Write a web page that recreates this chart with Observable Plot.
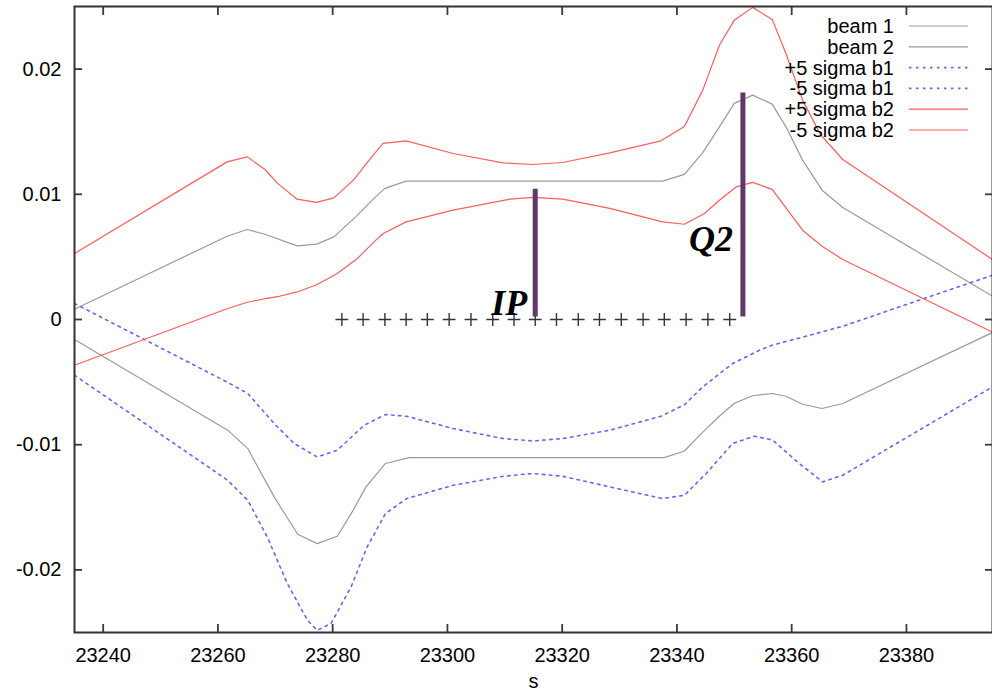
<!DOCTYPE html>
<html><head><meta charset="utf-8">
<script src="https://cdn.jsdelivr.net/npm/d3@7"></script>
<script src="https://cdn.jsdelivr.net/npm/@observablehq/plot@0.6"></script>
<style>
html,body{margin:0;padding:0;background:#fff;}
#wrap{position:relative;width:992px;height:694px;overflow:hidden;}
#legend{position:absolute;left:0;top:0;pointer-events:none;}
</style></head><body><div id="wrap"></div>
<script>
// ---- data ----
const xTicks = [23240, 23260, 23280, 23300, 23320, 23340, 23360, 23380];
const yTicks = [-0.02, -0.01, 0, 0.01, 0.02];
const yTickLabels = ["-0.02", "-0.01", "0", "0.01", "0.02"];

const legendLabels = ["beam 1", "beam 2", "+5 sigma b1", "-5 sigma b1", "+5 sigma b2", "-5 sigma b2"];

// beam 1 (lower grey)
const sB1 = [23235, 23261.7, 23265.2, 23269.8, 23273.9, 23277.3, 23280.8, 23283.4, 23285.8, 23289.2, 23293.3, 23337.8, 23341.3, 23344.5, 23347.4, 23350.0, 23353.2, 23356.6, 23359.0, 23361.9, 23365.3, 23368.9, 23395];
const vB1 = [-0.00160, -0.00884, -0.01031, -0.01417, -0.01715, -0.01790, -0.01731, -0.01537, -0.01337, -0.01150, -0.01103, -0.01103, -0.01050, -0.00900, -0.00773, -0.00669, -0.00609, -0.00591, -0.00613, -0.00677, -0.00711, -0.00671, -0.00104];
// beam 2 (upper grey)
const sB2 = [23235, 23261.6, 23265.1, 23268.2, 23273.8, 23277.2, 23280.2, 23284.0, 23287.2, 23289.1, 23292.8, 23337.5, 23341.3, 23344.5, 23347.4, 23350.0, 23353.2, 23356.6, 23359.0, 23361.9, 23365.3, 23368.9, 23395];
const vB2 = [0.00082, 0.00665, 0.00719, 0.00681, 0.00588, 0.00602, 0.00660, 0.00820, 0.00967, 0.01047, 0.01105, 0.01105, 0.01159, 0.01333, 0.01539, 0.01726, 0.01792, 0.01720, 0.01539, 0.01273, 0.01033, 0.00895, 0.00186];
// +5 sigma b1
const sP1 = [23235, 23261.6, 23265.2, 23269.8, 23273.3, 23277.3, 23280.8, 23285.5, 23289.2, 23292.9, 23301.0, 23309.7, 23314.9, 23320.1, 23328.3, 23337.2, 23341.3, 23344.5, 23349.7, 23354.4, 23356.6, 23361.9, 23365.3, 23368.9, 23395];
const vP1 = [0.00128, -0.00500, -0.00591, -0.00831, -0.00991, -0.01098, -0.01044, -0.00844, -0.00759, -0.00773, -0.00871, -0.00951, -0.00970, -0.00951, -0.00884, -0.00773, -0.00681, -0.00538, -0.00352, -0.00245, -0.00205, -0.00141, -0.00099, -0.00054, 0.00354];
// -5 sigma b1
const sM1 = [23235, 23261.7, 23265.2, 23268.6, 23272.1, 23275.6, 23277.3, 23279.7, 23283.2, 23286.0, 23289.2, 23292.9, 23301.0, 23309.7, 23314.9, 23320.1, 23328.3, 23337.5, 23341.3, 23345.1, 23349.7, 23353.5, 23356.7, 23361.3, 23365.4, 23368.9, 23395];
const vM1 = [-0.00445, -0.01284, -0.01444, -0.01737, -0.02109, -0.02402, -0.02482, -0.02429, -0.02136, -0.01817, -0.01550, -0.01430, -0.01324, -0.01252, -0.01230, -0.01252, -0.01337, -0.01430, -0.01404, -0.01230, -0.00991, -0.00932, -0.00964, -0.01150, -0.01297, -0.01244, -0.00538];
// +5 sigma b2
const sP2 = [23235, 23261.6, 23265.1, 23268.2, 23270.4, 23273.8, 23277.2, 23280.2, 23283.6, 23287.2, 23288.8, 23292.8, 23301.0, 23309.7, 23314.9, 23320.1, 23328.3, 23337.2, 23341.3, 23344.5, 23347.4, 23350.0, 23353.2, 23356.6, 23359.0, 23361.9, 23365.1, 23368.9, 23395];
const vP2 = [0.00527, 0.01259, 0.01299, 0.01198, 0.01087, 0.00961, 0.00935, 0.00971, 0.01113, 0.01321, 0.01406, 0.01427, 0.01326, 0.01251, 0.01238, 0.01254, 0.01331, 0.01427, 0.01541, 0.01832, 0.02191, 0.02391, 0.02493, 0.02397, 0.02125, 0.01752, 0.01472, 0.01278, 0.00479];
// -5 sigma b2
const sM2 = [23235, 23261.6, 23265.1, 23268.2, 23270.4, 23273.8, 23277.2, 23280.8, 23284.3, 23287.2, 23288.8, 23292.8, 23301.0, 23310.9, 23314.9, 23320.1, 23328.3, 23337.5, 23341.3, 23344.8, 23347.4, 23350.3, 23353.2, 23356.6, 23359.3, 23361.9, 23365.3, 23368.9, 23395];
const vM2 = [-0.00365, 0.00086, 0.00138, 0.00166, 0.00182, 0.00220, 0.00278, 0.00367, 0.00487, 0.00620, 0.00687, 0.00780, 0.00873, 0.00961, 0.00975, 0.00961, 0.00887, 0.00780, 0.00761, 0.00847, 0.00953, 0.01059, 0.01095, 0.01039, 0.00873, 0.00713, 0.00585, 0.00479, -0.00101];

// element markers along s at y = 0
const markerS = [23281.6, 23285.3, 23289.1, 23292.8, 23296.5, 23300.3, 23304.1, 23307.9, 23311.6, 23315.3, 23319.0, 23322.8, 23326.5, 23330.3, 23334.1, 23337.8, 23341.6, 23345.4, 23349.2];

// annotations
const annotName = ["IP", "Q2"];
const annotS = [23315.3, 23351.5];
const annotBottom = [0.0002, 0.0002];
const annotTop = [0.0104, 0.0181];
const annotTextY = [0.00034, 0.0055];

// ---- styles ----
const seriesS = [sB1, sB2, sP1, sM1, sP2, sM2];
const seriesV = [vB1, vB2, vP1, vM1, vP2, vM2];
const seriesColor = ["#9a9a9a", "#9a9a9a", "#6464ff", "#6464ff", "#ff5c5c", "#ff5c5c"];
const seriesDash = [null, null, "2.5,4.5", "2.5,4.5", null, null];
const seriesWidth = [1.2, 1.2, 1.6, 1.6, 1.2, 1.2];
const annotDx = [-8, -10];

const rows = (s, v) => s.map((x, i) => ({s: x, v: v[i]}));

const lineMarks = seriesS.map((s, k) => Plot.line(rows(s, seriesV[k]), {
  x: "s", y: "v", stroke: seriesColor[k], strokeWidth: seriesWidth[k],
  strokeDasharray: seriesDash[k], clip: true
}));

const annotMarks = annotName.flatMap((name, i) => [
  Plot.ruleX([i], {x: () => annotS[i], y1: () => annotBottom[i], y2: () => annotTop[i], stroke: "#62386b", strokeWidth: 5}),
  Plot.text([name], {x: () => annotS[i], y: () => annotTextY[i], text: d => d, textAnchor: "end", lineAnchor: "bottom",
    dx: annotDx[i], fontFamily: "Liberation Serif, Times New Roman, serif", fontWeight: "bold", fontStyle: "italic", fontSize: 36, fill: "black"})
]);

// inward tick marks (gnuplot style): outward ticks shifted inside the frame
const tickStroke = "#3a3a3a";
const tickLen = 8;
const tickMarks = [
  Plot.axisY(yTicks, {anchor: "left", tickSize: tickLen, dx: tickLen, tickFormat: () => "", label: null, stroke: tickStroke, strokeWidth: 1.8}),
  Plot.axisY(yTicks, {anchor: "right", tickSize: tickLen, dx: -tickLen, tickFormat: () => "", label: null, stroke: tickStroke, strokeWidth: 1.8}),
  Plot.axisX(xTicks, {anchor: "bottom", tickSize: tickLen, dy: -tickLen, tickFormat: () => "", label: null, stroke: tickStroke, strokeWidth: 1.8}),
  Plot.axisX(xTicks, {anchor: "top", tickSize: tickLen, dy: tickLen, tickFormat: () => "", label: null, stroke: tickStroke, strokeWidth: 1.8})
];

const chart = Plot.plot({
  width: 992, height: 694,
  marginLeft: 74, marginRight: 0, marginTop: 6, marginBottom: 62,
  x: {domain: [23235, 23395]},
  y: {domain: [-0.025, 0.025]},
  style: {fontFamily: "Liberation Sans, Arial, Helvetica, sans-serif", fontSize: "20px", background: "white", color: "black", overflow: "visible"},
  marks: [
    ...lineMarks,
    Plot.dot(markerS, {x: d => d, y: () => 0, symbol: "plus", r: 4.2, stroke: "#333", strokeWidth: 1.4}),
    ...annotMarks,
    ...tickMarks,
    Plot.axisX(xTicks, {anchor: "bottom", tickSize: 0, tickPadding: 15, tickFormat: d => String(d), label: null}),
    Plot.axisY(yTicks, {anchor: "left", tickSize: 0, tickPadding: 13, tickFormat: d => yTickLabels[yTicks.indexOf(d)], label: null}),
    Plot.frame({stroke: "#333", strokeWidth: 2}),
    Plot.text(["s"], {frameAnchor: "bottom", dy: 55, fontSize: 20, fill: "black"})
  ]
});
document.getElementById("wrap").append(chart);

// legend (inside plot, top right)
const leg = d3.select("#wrap").append("svg").attr("id", "legend").attr("width", 992).attr("height", 694)
  .style("font-family", "Liberation Sans, Arial, Helvetica, sans-serif").style("font-size", "20px");
legendLabels.forEach((lab, i) => {
  const y = 26 + i * 20.8;
  leg.append("text").attr("x", 894).attr("y", y + 7).attr("text-anchor", "end").attr("fill", "black").text(lab);
  leg.append("line").attr("x1", 909).attr("x2", 968).attr("y1", y).attr("y2", y)
    .attr("stroke", seriesColor[i]).attr("stroke-width", seriesWidth[i])
    .attr("stroke-dasharray", seriesDash[i]);
});
</script>
</body></html>
